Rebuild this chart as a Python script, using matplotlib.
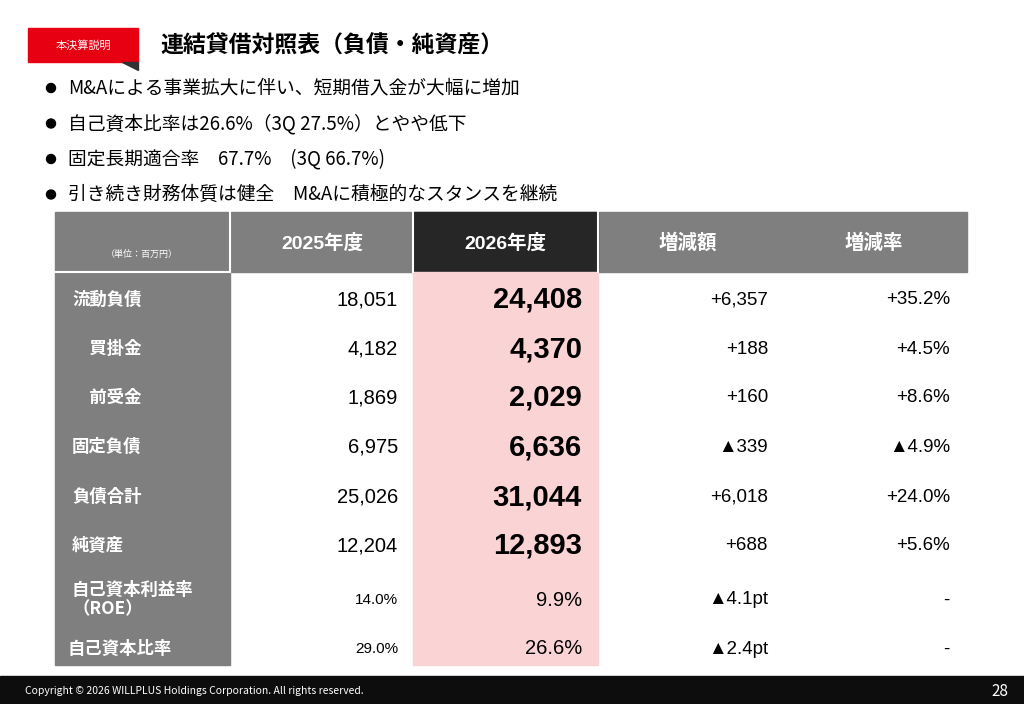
import matplotlib
matplotlib.use("Agg")
import matplotlib.pyplot as plt
from matplotlib.patches import Rectangle, Circle

plt.rcParams['font.family'] = ['Noto Sans CJK JP', 'DejaVu Sans']
NUM = ['Liberation Sans', 'Noto Sans CJK JP', 'DejaVu Sans']

title = "連結貸借対照表（負債・純資産）"
tag = "本決算説明"
bullets = ["M&Aによる事業拡大に伴い、短期借入金が大幅に増加",
           "自己資本比率は26.6%（3Q 27.5%）とやや低下",
           "固定長期適合率　67.7%　(3Q 66.7%)",
           "引き続き財務体質は健全　M&Aに積極的なスタンスを継続"]
headers = ["2025年度", "2026年度", "増減額", "増減率"]
unit = "（単位：百万円）"
rows = ["流動負債", "　買掛金", "　前受金", "固定負債", "負債合計", "純資産", "自己資本利益率\n（ROE）", "自己資本比率"]
v2025 = ["18,051", "4,182", "1,869", "6,975", "25,026", "12,204", "14.0%", "29.0%"]
v2026 = ["24,408", "4,370", "2,029", "6,636", "31,044", "12,893", "9.9%", "26.6%"]
diff = ["+6,357", "+188", "+160", "▲339", "+6,018", "+688", "▲4.1pt", "▲2.4pt"]
rate = ["+35.2%", "+4.5%", "+8.6%", "▲4.9%", "+24.0%", "+5.6%", "-", "-"]
footer = "Copyright © 2026 WILLPLUS Holdings Corporation. All rights reserved."
page = "28"

fig = plt.figure(figsize=(10.24, 7.04), dpi=100)
ax = fig.add_axes([0, 0, 1, 1])
ax.set_xlim(0, 1024); ax.set_ylim(704, 0); ax.axis('off')

ax.add_patch(Rectangle((28, 28), 110, 34, color='#e60012'))
ax.text(83, 45, tag, color='white', fontsize=8, ha='center', va='center')
ax.add_patch(plt.Polygon([[122, 62], [138, 62], [138, 70]], color='#333333'))
ax.text(160, 46, title, fontsize=16.5, fontweight='bold', va='center')

for i, b in enumerate(bullets):
    y = 88 + i * 35.5
    ax.add_patch(Circle((51, y), 4.5, color='black'))
    ax.text(68, y, b, fontsize=13.5, va='center')

# table
ax.add_patch(Rectangle((55, 212), 912, 60, color='#7f7f7f'))
ax.add_patch(Rectangle((413, 212), 185, 60, color='#262626'))
ax.add_patch(Rectangle((55, 272), 175, 393, color='#7f7f7f'))
ax.add_patch(Rectangle((413, 272), 185, 393, color='#fad4d4'))
for x in [230, 413, 598]:
    ax.plot([x, x], [212, 272], color='white', lw=1.5)
ax.plot([55, 230], [272, 272], color='white', lw=1.5)
ax.text(142, 254, unit, color='white', fontsize=6.5, ha='center', va='center')
hx = [322, 505, 688, 874]
for x, h in zip(hx, headers):
    ax.text(x, 243, h, color='white', fontsize=14, fontweight='bold', ha='center', va='center',
            family=NUM)

ys = [300, 349, 398, 447, 497, 546, 600, 649]
for i, y in enumerate(ys):
    small = i >= 6
    ax.text(72 if i != 7 else 68, y, rows[i], color='white', fontsize=12.5, fontweight='bold',
            va='center', ha='left', linespacing=1.1)
    ax.text(398, y, v2025[i], fontsize=11 if small else 14.5, ha='right', va='center', family=NUM)
    ax.text(582, y, v2026[i], fontsize=14.5 if small else 21, fontweight='normal' if small else 'bold',
            ha='right', va='center', family=NUM)
    ax.text(768, y, diff[i], fontsize=13.5, ha='right', va='center', family=NUM)
    ax.text(950, y, rate[i], fontsize=13.5, ha='right', va='center', family=NUM)

ax.add_patch(Rectangle((0, 676), 1024, 28, color='#0d0d0d'))
ax.text(25, 691, footer, color='white', fontsize=7.5, va='center')
ax.text(1000, 691, page, color='white', fontsize=11, ha='center', va='center')

fig.savefig("out.png", dpi=100)
